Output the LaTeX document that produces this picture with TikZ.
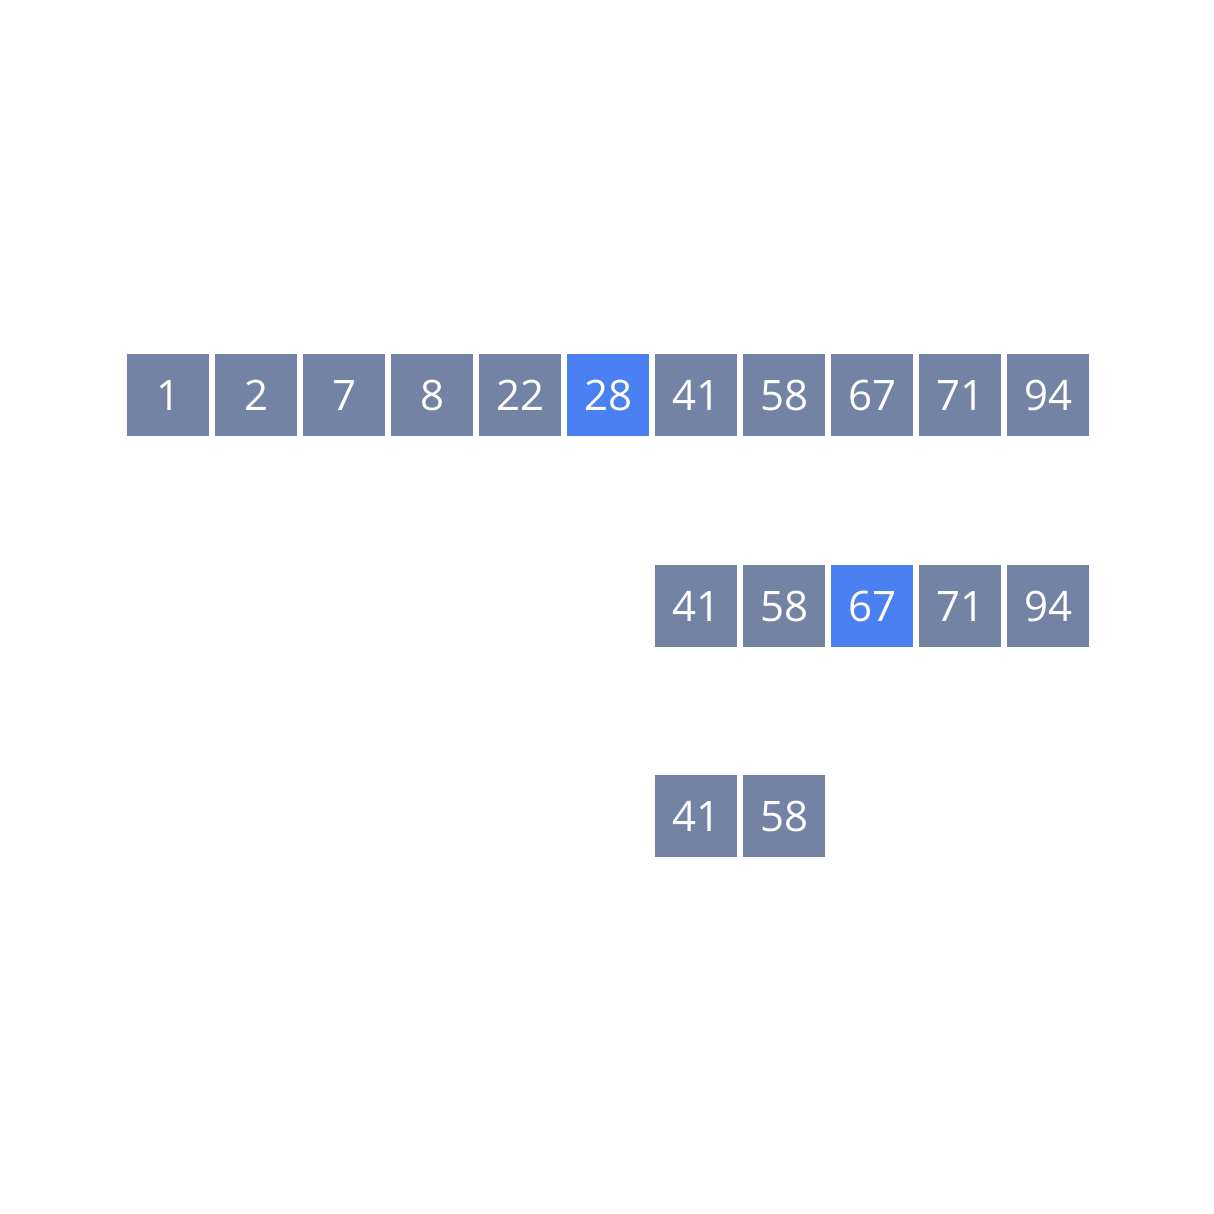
\documentclass[tikz,border=0pt]{standalone}
\usepackage{fontspec}
\setmainfont{Open Sans}
\definecolor{cellgray}{HTML}{7383A4}
\definecolor{cellblue}{HTML}{4A80F2}
\begin{document}
\begin{tikzpicture}[x=1pt,y=1pt,
  cell/.style={fill=cellgray,minimum width=82pt,minimum height=82pt,inner sep=0pt,text=white,font=\fontsize{42}{42}\selectfont,anchor=north west},
  hot/.style={cell,fill=cellblue}]
\useasboundingbox (0,0) rectangle (1214,1214);
\fill[white] (0,0) rectangle (1214,1214);
\foreach \v [count=\i from 0] in {1,2,7,8,22,28,41,58,67,71,94}{
  \ifnum\i=5
    \node[hot] (a\i) at (127+88*\i,1214-354) {\v};
  \else
    \node[cell] (a\i) at (127+88*\i,1214-354) {\v};
  \fi
}
\foreach \v [count=\i from 6] in {41,58,67,71,94}{
  \ifnum\i=8
    \node[hot] (b\i) at (127+88*\i,1214-565) {\v};
  \else
    \node[cell] (b\i) at (127+88*\i,1214-565) {\v};
  \fi
}
\foreach \v [count=\i from 6] in {41,58}{
  \node[cell] (c\i) at (127+88*\i,1214-775) {\v};
}
\end{tikzpicture}
\end{document}
